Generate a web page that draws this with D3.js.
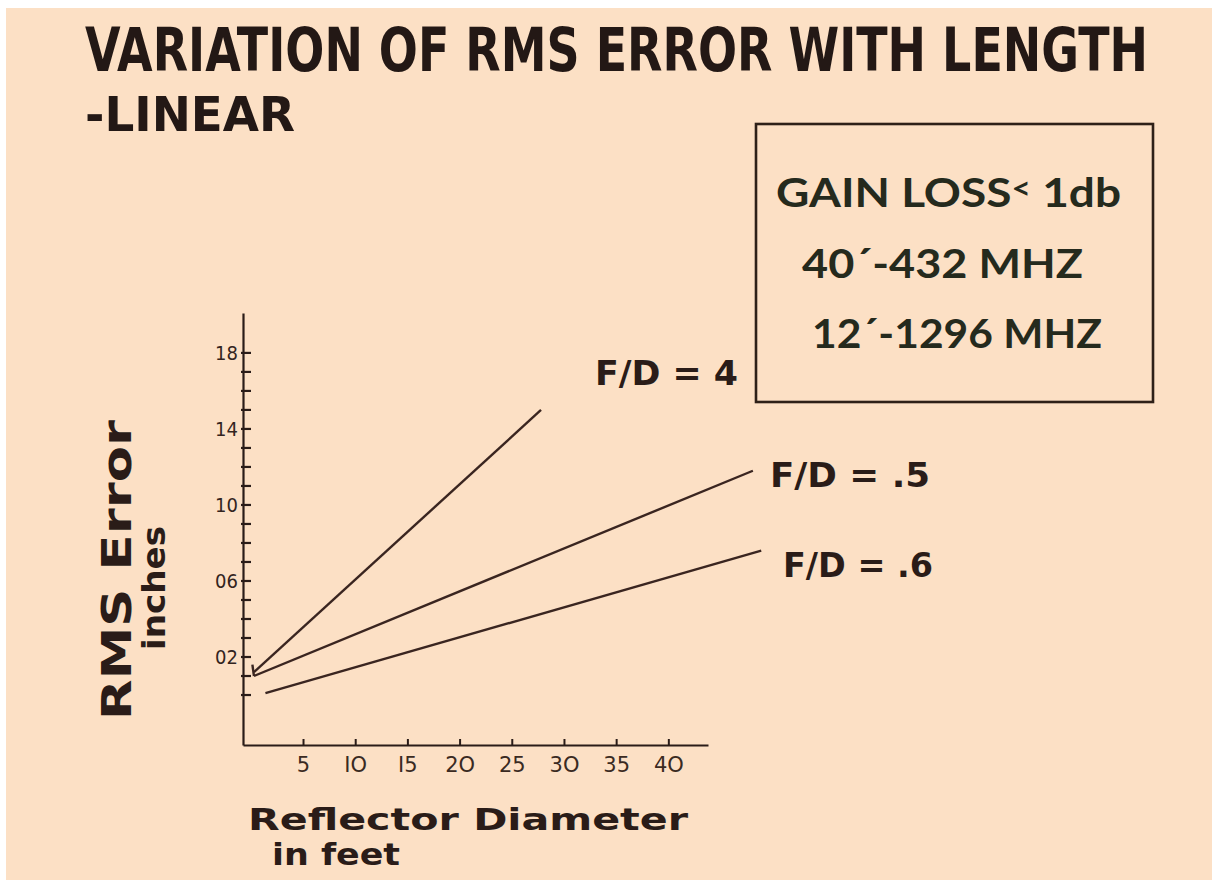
<!DOCTYPE html>
<html>
<head>
<meta charset="utf-8">
<script src="https://cdn.jsdelivr.net/npm/d3@7/dist/d3.min.js"></script>
<style>
  html, body { margin: 0; padding: 0; background: #ffffff; }
  svg { display: block; }
</style>
</head>
<body>
<div id="chart"></div>
<script>
// ---- data ----
var xTicks = [5, 10, 15, 20, 25, 30, 35, 40];
var xTickLabels = ["5", "IO", "I5", "2O", "25", "3O", "35", "4O"];
var yMajorTicks = [2, 6, 10, 14, 18];
var yTickLabels = ["02", "06", "10", "14", "18"];
var yMinorTicks = d3.range(0, 19);

var seriesNames = ["F/D = 4", "F/D = .5", "F/D = .6"];
// [reflector diameter (ft), rms error]
var fd4 = [[0.3, 1.2], [27.8, 15.0]];
var fd5 = [[0.3, 1.0], [48.1, 11.8]];
var fd6 = [[1.4, 0.1], [48.9, 7.6]];
var seriesValues = [fd4, fd5, fd6];

var titleLines = ["VARIATION OF RMS  ERROR WITH LENGTH", "-LINEAR"];
var boxLines = ["GAIN LOSS", "40´-432 MHZ", "12´-1296 MHZ"];

var width = 1212, height = 880;
var ink = "#2a1c18";

var svg = d3.select("#chart").append("svg")
  .attr("width", width)
  .attr("height", height);

// slide background (white scan margin at top/left)
svg.append("rect").attr("x", 0).attr("y", 0).attr("width", width).attr("height", height).attr("fill", "#ffffff");
svg.append("rect").attr("x", 6).attr("y", 8).attr("width", width - 6).attr("height", height - 8).attr("fill", "#fce0c5");

// scales
var x = d3.scaleLinear().domain([-0.75, 43.8]).range([243, 708]);
var y = d3.scaleLinear().domain([-2.63, 20.1]).range([745, 313]);

// title, condensed and stretched upward like the lettering on the slide
var title = svg.append("g")
  .attr("font-family", "'DejaVu Sans Condensed', 'DejaVu Sans', sans-serif")
  .attr("font-weight", "bold")
  .attr("fill", "#231815");
title.append("text")
  .attr("transform", "translate(85,71) scale(1,1.25)")
  .attr("font-size", 48)
  .attr("textLength", 1063).attr("lengthAdjust", "spacingAndGlyphs")
  .text(titleLines[0]);
title.append("text")
  .attr("transform", "translate(85,131) scale(1,1.12)")
  .attr("font-size", 43)
  .attr("textLength", 210).attr("lengthAdjust", "spacingAndGlyphs")
  .text(titleLines[1]);

// axes
var xAxis = d3.axisBottom(x)
  .tickValues(xTicks)
  .tickSizeInner(-6)
  .tickSizeOuter(0)
  .tickPadding(12)
  .tickFormat(function(d, i) { return xTickLabels[i]; });

var gx = svg.append("g")
  .attr("transform", "translate(0," + y.range()[0] + ")")
  .call(xAxis);
gx.select(".domain").attr("stroke", ink).attr("stroke-width", 2.2);
gx.selectAll(".tick line").attr("stroke", ink).attr("stroke-width", 2);
gx.selectAll(".tick text")
  .attr("fill", "#3a2a22")
  .attr("font-family", "'DejaVu Sans', sans-serif")
  .attr("font-size", 21);

var yAxis = d3.axisLeft(y)
  .tickValues(yMajorTicks)
  .tickSizeInner(3)
  .tickSizeOuter(0)
  .tickPadding(2)
  .tickFormat(function(d, i) { return yTickLabels[i]; });

var gy = svg.append("g")
  .attr("transform", "translate(" + x.range()[0] + ",0)")
  .call(yAxis);
gy.select(".domain").attr("stroke", ink).attr("stroke-width", 2.2);
gy.selectAll(".tick line").attr("stroke", "none");
gy.selectAll(".tick text")
  .attr("fill", "#33241e")
  .attr("font-family", "'DejaVu Sans Condensed', 'DejaVu Sans', sans-serif")
  .attr("font-size", 20);

// small ticks on every unit
gy.selectAll("line.minor")
  .data(yMinorTicks)
  .enter().append("line")
  .attr("class", "minor")
  .attr("x1", -2).attr("x2", 8)
  .attr("y1", function(d) { return y(d); })
  .attr("y2", function(d) { return y(d); })
  .attr("stroke", ink)
  .attr("stroke-width", 2.2);

// axis titles
var axisFont = "'DejaVu Sans', sans-serif";
svg.append("text")
  .attr("x", 248).attr("y", 830)
  .attr("font-family", axisFont).attr("font-weight", "bold")
  .attr("font-size", 30).attr("fill", ink)
  .attr("textLength", 440).attr("lengthAdjust", "spacingAndGlyphs")
  .text("Reflector Diameter");
svg.append("text")
  .attr("x", 272).attr("y", 865)
  .attr("font-family", axisFont).attr("font-weight", "bold")
  .attr("font-size", 30).attr("fill", ink)
  .attr("textLength", 128).attr("lengthAdjust", "spacingAndGlyphs")
  .text("in feet");

svg.append("text")
  .attr("transform", "translate(131,720) rotate(-90)")
  .attr("font-family", axisFont).attr("font-weight", "bold")
  .attr("font-size", 40).attr("fill", ink)
  .attr("textLength", 300).attr("lengthAdjust", "spacingAndGlyphs")
  .text("RMS Error");
svg.append("text")
  .attr("transform", "translate(165,650) rotate(-90)")
  .attr("font-family", axisFont).attr("font-weight", "bold")
  .attr("font-size", 32).attr("fill", ink)
  .attr("textLength", 124).attr("lengthAdjust", "spacingAndGlyphs")
  .text("inches");

// series lines
var line = d3.line()
  .x(function(d) { return x(d[0]); })
  .y(function(d) { return y(d[1]); });

svg.selectAll("path.series")
  .data(seriesValues)
  .enter().append("path")
  .attr("class", "series")
  .attr("d", line)
  .attr("fill", "none")
  .attr("stroke", "#3a2520")
  .attr("stroke-width", 2.4);

// small closing stroke where the first two lines meet
svg.append("path")
  .attr("d", "M" + x(0.15) + "," + y(1.6) + "L" + x(0.3) + "," + y(1.0))
  .attr("stroke", "#3a2520").attr("stroke-width", 2.4).attr("fill", "none");

// series labels
var labelPos = [[595, 385, 143], [770, 487, 160], [783, 577, 150]];
svg.selectAll("text.series-label")
  .data(seriesNames)
  .enter().append("text")
  .attr("class", "series-label")
  .attr("x", function(d, i) { return labelPos[i][0]; })
  .attr("y", function(d, i) { return labelPos[i][1]; })
  .attr("textLength", function(d, i) { return labelPos[i][2]; })
  .attr("lengthAdjust", "spacingAndGlyphs")
  .attr("font-family", axisFont).attr("font-weight", "bold")
  .attr("font-size", 33).attr("fill", ink)
  .text(function(d) { return d; });

// info box
svg.append("rect")
  .attr("x", 756).attr("y", 124)
  .attr("width", 397).attr("height", 278)
  .attr("fill", "none")
  .attr("stroke", "#2e2018").attr("stroke-width", 2.6);

var boxFont = "Lato, 'Open Sans', sans-serif";
var boxInk = "#252a1d";
var l1 = svg.append("text")
  .attr("x", 776).attr("y", 207)
  .attr("font-family", boxFont).attr("font-weight", "bold")
  .attr("font-size", 41).attr("fill", boxInk)
  .attr("textLength", 345).attr("lengthAdjust", "spacingAndGlyphs");
l1.append("tspan").text(boxLines[0]);
l1.append("tspan").attr("font-size", 30).attr("dy", -8).text("<");
l1.append("tspan").attr("dy", 8).text(" 1db");

svg.append("text")
  .attr("x", 802).attr("y", 278)
  .attr("font-family", boxFont).attr("font-weight", "bold")
  .attr("font-size", 41).attr("fill", boxInk)
  .attr("textLength", 281).attr("lengthAdjust", "spacingAndGlyphs")
  .text(boxLines[1]);
svg.append("text")
  .attr("x", 812).attr("y", 348)
  .attr("font-family", boxFont).attr("font-weight", "bold")
  .attr("font-size", 41).attr("fill", boxInk)
  .attr("textLength", 290).attr("lengthAdjust", "spacingAndGlyphs")
  .text(boxLines[2]);
</script>
</body>
</html>
